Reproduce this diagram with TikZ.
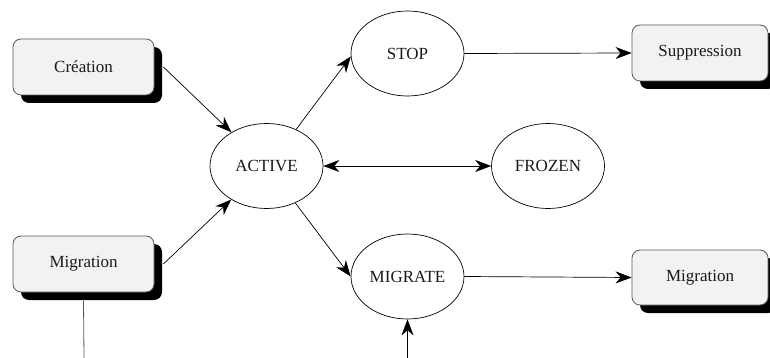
\documentclass[tikz,border=0pt]{standalone}
\usepackage{fontspec}
\setmainfont{Liberation Serif}
\usetikzlibrary{arrows.meta,shapes.geometric,shadows}
\begin{document}
\begin{tikzpicture}[x=1pt,y=-1pt,
  lbl/.style={font=\fontsize{17}{20}\selectfont, text=black!90},
  box/.style={lbl, draw=black!65, fill=black!5, rounded corners=8pt,
    minimum height=56pt, inner sep=0pt, line width=0.8pt,
    drop shadow={shadow xshift=8pt, shadow yshift=-8pt, fill=black, opacity=1}},
  state/.style={lbl, draw=black, ellipse, minimum width=113pt, minimum height=85pt,
    inner sep=0pt, line width=0.7pt},
  arr/.style={-{Stealth[length=16pt,width=12pt,inset=5pt]}, line width=0.7pt},
  darr/.style={{Stealth[length=16pt,width=12pt,inset=5pt]}-{Stealth[length=16pt,width=12pt,inset=5pt]}, line width=0.7pt},
  plain/.style={line width=0.8pt, draw=black!65}]
\useasboundingbox (0,0) rectangle (770,358);

\node[box, minimum width=141pt] (crea) at (83.5,67) {Création};
\node[box, minimum width=141pt] (migl) at (83.5,264) {Migration};
\node[box, minimum width=136pt] (supp) at (700,53) {Suppression};
\node[box, minimum width=136pt, minimum height=55pt] (migr) at (700,277.5) {Migration};

\node[state] (act) at (266.5,166) {ACTIVE};
\node[state] (stop) at (407.5,53.5) {STOP};
\node[state] (frozen) at (548,166) {FROZEN};
\node[state] (migrate) at (407.5,276.5) {MIGRATE};

\coordinate (b0) at (84,358);
\coordinate (b1) at (407.5,358);

\draw[arr] ([xshift=9pt]crea.east) -- (act);
\draw[arr] ([xshift=9pt]migl.east) -- (act);
\draw[arr] (act.51) -- (stop.183);
\draw[arr] (act.308) -- (migrate.180);
\draw[darr] (act.east) -- (frozen.west);
\draw[arr] (stop.east) -- (supp.west);
\draw[arr] (migrate.east) -- (migr.west);
\draw[arr] (b1) -- (migrate.south);
\draw[plain] ([yshift=-8pt]migl.south) -- (b0);
\end{tikzpicture}
\end{document}
